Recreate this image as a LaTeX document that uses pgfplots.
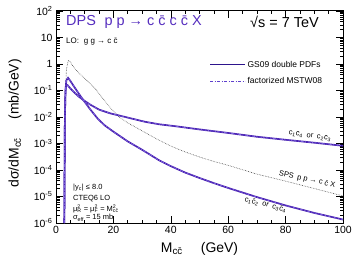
\documentclass[border=0pt]{standalone}
\usepackage{fontspec}
\setmainfont{Liberation Sans}
\usepackage{pgfplots}
\usepackage{pgfplotstable}
\pgfplotsset{compat=1.18}
\definecolor{dpsblue}{RGB}{72,32,175}
\definecolor{dpsdash}{RGB}{125,100,225}
\definecolor{dpstitle}{RGB}{85,45,190}
\definecolor{legblue}{RGB}{45,20,140}
\definecolor{legdash}{RGB}{95,65,205}
\definecolor{spsgray}{RGB}{70,70,70}

% c1 cbar2 or c3 cbar4 (steeper)
\pgfplotstableread{
M y
2.9 1e-6
3.0 1e-4
3.1 1e-2
3.3 0.1
3.6 0.24
4.2 0.30
5.0 0.23
6.6 0.125
8.0 0.074
9.5 0.044
12 0.019
14.6 0.0085
17 0.0048
20 0.0028
25 0.0012
30 5.8e-4
36 2.3e-4
40 1.4e-4
45 8.0e-5
50 5.0e-5
55 3.2e-5
60 2.1e-5
70 9.5e-6
80 4.6e-6
90 2.4e-6
100 1.35e-6
}\curveA

% c1 cbar4 or c2 cbar3 (flatter)
\pgfplotstableread{
M y
2.9 1e-6
3.0 1e-4
3.1 1e-2
3.3 0.08
3.5 0.17
4.0 0.16
5.0 0.12
6.6 0.080
8.0 0.058
9.5 0.044
12 0.029
15 0.019
18.8 0.0138
25 0.0095
31 0.0066
36 0.0053
41.5 0.0045
50 0.0034
60 0.0025
70 0.0018
80 0.00138
90 0.00107
100 0.00082
}\curveB

% SPS
\pgfplotstableread{
M y
3.4 0.12
3.6 0.6
4.3 1.4
5.0 1.2
6.0 0.8
8.0 0.45
10.1 0.28
13.6 0.12
16 0.055
19.5 0.019
22 0.010
25 0.0060
30 0.0030
35 0.0015
40 8.0e-4
45 4.8e-4
50 3.1e-4
55 2.1e-4
60 1.5e-4
70 7.0e-5
80 3.8e-5
90 2.0e-5
100 1.05e-5
}\curveS

\begin{document}
\begin{tikzpicture}
\path[use as bounding box] (-56bp,-41bp) rectangle (297bp,223bp);
\begin{axis}[
  scale only axis, width=287bp, height=212bp,
  xmin=0, xmax=100, ymin=1e-6, ymax=1e2, ymode=log,
  xtick={0,20,40,60,80,100}, minor x tick num=3,
  ytick={1e-6,1e-5,1e-4,1e-3,1e-2,1e-1,1,10,100},
  yticklabels={10\textsuperscript{-6},10\textsuperscript{-5},10\textsuperscript{-4},10\textsuperscript{-3},10\textsuperscript{-2},10\textsuperscript{-1},1,10,10\textsuperscript{2}},
  major tick length=7bp, minor tick length=3.5bp,
  tick style={black, line width=0.6bp},
  axis line style={line width=1bp},
  tick label style={font=\fontsize{10.5}{12}\selectfont},
  /pgf/number format/assume math mode=true,
  xlabel={M\textsubscript{c\={c}}\hspace{1.3em}(GeV)},
  ylabel={dσ/dM\textsubscript{c\={c}}\hspace{1.3em}(mb/GeV)},
  label style={font=\fontsize{14}{16}\selectfont},
  xlabel style={at={(rel axis cs:0.5,0)}, anchor=north, yshift=-16bp},
  ylabel style={at={(rel axis cs:0,0.47)}, anchor=center, yshift=41bp},
  legend style={at={(rel axis cs:0.535,0.775)}, anchor=north west, draw=none, fill=none,
    font=\fontsize{8.5}{10}\selectfont, inner sep=0pt, row sep=5bp},
  legend cell align=left,
  legend image code/.code={\draw[#1] (0bp,0bp) -- (35bp,0bp);},
]
\addplot[spsgray, line width=0.6bp, densely dotted, forget plot] table {\curveS};
\addplot[dpsblue, line width=1.7bp, forget plot] table {\curveA};
\addplot[dpsblue, line width=1.7bp, forget plot] table {\curveB};
\addplot[dpsdash, line width=0.7bp, dash pattern=on 3bp off 1.5bp on 1bp off 1.5bp, forget plot] table {\curveA};
\addplot[dpsdash, line width=0.7bp, dash pattern=on 3bp off 1.5bp on 1bp off 1.5bp, forget plot] table {\curveB};
\addlegendimage{legblue, line width=0.8bp}
\addlegendentry{GS09 double PDFs}
\addlegendimage{legdash, line width=0.9bp, dash pattern=on 3bp off 1.5bp on 1bp off 1.5bp}
\addlegendentry{factorized MSTW08}

\node[anchor=west, text=dpstitle, font=\fontsize{14.5}{17}\selectfont, inner sep=0pt] at (rel axis cs:0.035,0.948) {DPS\hspace{0.6em}p p → c \={c} c \={c} X};
\node[anchor=west, font=\fontsize{14.5}{17}\selectfont, inner sep=0pt] at (rel axis cs:0.676,0.948) {√s = 7 TeV};
\node[anchor=west, font=\fontsize{8}{9}\selectfont, inner sep=0pt] at (rel axis cs:0.035,0.858) {LO:\hspace{0.6em}g g → c \={c}};

\node[rotate=-8, font=\fontsize{7.5}{9}\selectfont, inner sep=0pt] at (rel axis cs:0.885,0.41) {c\textsubscript{1}\={c}\textsubscript{4}\hspace{0.5em}or\hspace{0.5em}c\textsubscript{2}\={c}\textsubscript{3}};
\node[rotate=-12, font=\fontsize{7.5}{9}\selectfont, inner sep=0pt] at (rel axis cs:0.875,0.205) {SPS\hspace{0.5em}p p → c \={c} X};
\node[rotate=-15, font=\fontsize{7.5}{9}\selectfont, inner sep=0pt] at (rel axis cs:0.73,0.085) {c\textsubscript{1}\={c}\textsubscript{2}\hspace{0.5em}or\hspace{0.5em}c\textsubscript{3}\={c}\textsubscript{4}};

\begin{scope}[every node/.style={anchor=west, font=\fontsize{7.5}{9}\selectfont, inner sep=0pt}]
\node at (rel axis cs:0.059,0.167) {|y\textsubscript{c}| ≤ 8.0};
\node at (rel axis cs:0.059,0.116) {CTEQ6 LO};
\node at (rel axis cs:0.059,0.067) {μ\rlap{\textsuperscript{2}}\textsubscript{R} = μ\rlap{\textsuperscript{2}}\textsubscript{F} = M\rlap{\textsuperscript{2}}\textsubscript{c\={c}}};
\node at (rel axis cs:0.059,0.024) {σ\textsubscript{eff} = 15 mb};
\end{scope}
\end{axis}
\end{tikzpicture}
\end{document}
